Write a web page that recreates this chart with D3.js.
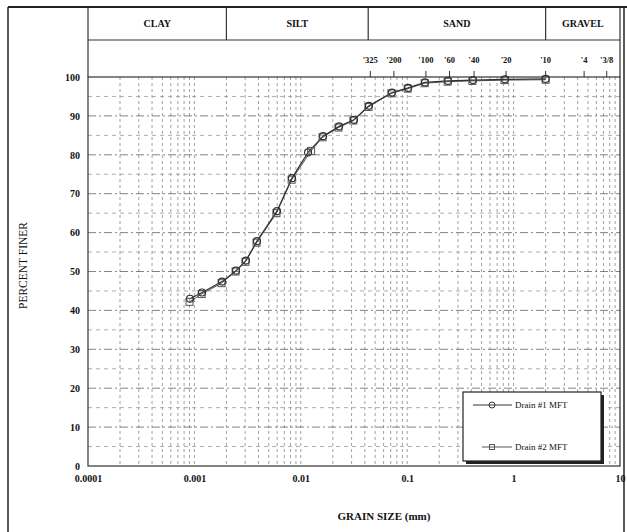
<!DOCTYPE html>
<html><head><meta charset="utf-8">
<script src="https://cdn.jsdelivr.net/npm/d3@7"></script>
<style>
body{margin:0;background:#fff}
text{font-family:"Liberation Serif","Times New Roman",serif;fill:#111}
</style>
</head><body>
<svg id="c" width="627" height="532"></svg>
<script>
// ---- data ----
const seriesNames = ["Drain #1 MFT", "Drain #2 MFT"];
const grainSize1 = [0.00091, 0.00118, 0.00182, 0.00246, 0.00305, 0.00387, 0.00597, 0.00826, 0.0117, 0.0162, 0.0229, 0.0316, 0.0437, 0.072, 0.102, 0.147, 0.242, 0.415, 0.83, 2.0];
const percent1   = [43.0, 44.6, 47.4, 50.2, 52.8, 57.8, 65.5, 74.0, 80.6, 84.8, 87.3, 89.0, 92.6, 96.0, 97.2, 98.6, 99.0, 99.2, 99.4, 99.5];
const grainSize2 = [0.00090, 0.00117, 0.00180, 0.00244, 0.00302, 0.00384, 0.00590, 0.00820, 0.0125, 0.0160, 0.0226, 0.0312, 0.0432, 0.071, 0.101, 0.146, 0.24, 0.41, 0.82, 2.0];
const percent2   = [42.2, 44.2, 47.0, 50.0, 52.5, 57.4, 65.0, 73.6, 81.0, 84.5, 87.0, 88.8, 92.3, 95.8, 97.0, 98.4, 98.8, 99.0, 99.2, 99.3];
const xTickValues = [0.0001, 0.001, 0.01, 0.1, 1, 10];
const xTickLabels = ["0.0001", "0.001", "0.01", "0.1", "1", "10"];
const yTickValues = [0, 10, 20, 30, 40, 50, 60, 70, 80, 90, 100];
const sieveSizes  = [0.045, 0.075, 0.15, 0.25, 0.425, 0.85, 2.0, 4.6, 7.5];
const sieveLabels = ["'325", "'200", "'100", "'60", "'40", "'20", "'10", "'4", "'3/8"];
const soilClasses = ["CLAY", "SILT", "SAND", "GRAVEL"];
const classBounds = [0.0001, 0.002, 0.043, 2, 10];

// ---- layout ----
const W = 627, H = 532;
const L = 88, R = 620, T = 77, B = 466;
const svg = d3.select("#c");
const x = d3.scaleLog().domain([0.0001, 10]).range([L, R]);
const y = d3.scaleLinear().domain([0, 100]).range([B, T]);

// outer frame
svg.append("line").attr("x1", 8).attr("x2", 8).attr("y1", 7).attr("y2", H).attr("stroke", "#222").attr("stroke-width", 1.5);
svg.append("line").attr("x1", 8).attr("x2", W).attr("y1", 7).attr("y2", 7).attr("stroke", "#222").attr("stroke-width", 2);
svg.append("line").attr("x1", 624).attr("x2", 624).attr("y1", 7).attr("y2", H).attr("stroke", "#222").attr("stroke-width", 1.5);

// grid
const g = svg.append("g");
const minorX = [];
for (let k = -4; k <= 0; k++) for (let m = 1; m <= 9; m++) { const v = m * Math.pow(10, k); if (v > 0.0001) minorX.push(v); }
g.selectAll("line.vx").data(minorX).join("line")
  .attr("x1", d => x(d)).attr("x2", d => x(d)).attr("y1", T).attr("y2", B)
  .attr("stroke", "#888").attr("stroke-width", 0.8).attr("stroke-dasharray", "3,3");
const hGrid = d3.range(5, 100, 5);
g.selectAll("line.hy").data(hGrid).join("line")
  .attr("x1", L).attr("x2", R).attr("y1", d => y(d)).attr("y2", d => y(d))
  .attr("stroke", d => d % 10 === 0 ? "#666" : "#999").attr("stroke-width", 0.8)
  .attr("stroke-dasharray", d => d % 10 === 0 ? "8,3,2,3" : "4,4");

// plot border
svg.append("rect").attr("x", L).attr("y", T).attr("width", R - L).attr("height", B - T)
  .attr("fill", "none").attr("stroke", "#333").attr("stroke-width", 1.2);

// header
svg.append("line").attr("x1", L).attr("x2", L).attr("y1", 7).attr("y2", T).attr("stroke", "#333").attr("stroke-width", 1.2);
svg.append("line").attr("x1", R).attr("x2", R).attr("y1", 7).attr("y2", T).attr("stroke", "#333").attr("stroke-width", 1.2);
svg.append("line").attr("x1", L).attr("x2", R).attr("y1", 40).attr("y2", 40).attr("stroke", "#333").attr("stroke-width", 1.2);
svg.selectAll("line.cb").data(classBounds.slice(1, -1)).join("line")
  .attr("x1", d => x(d)).attr("x2", d => x(d)).attr("y1", 7).attr("y2", 40)
  .attr("stroke", "#333").attr("stroke-width", 1.2);
svg.selectAll("text.cl").data(soilClasses).join("text")
  .attr("x", (d, i) => (x(classBounds[i]) + x(classBounds[i + 1])) / 2).attr("y", 27)
  .attr("text-anchor", "middle").attr("font-size", 10).attr("font-weight", "bold").text(d => d);

// sieve ticks
svg.selectAll("line.sv").data(sieveSizes).join("line")
  .attr("x1", d => x(d)).attr("x2", d => x(d)).attr("y1", T - 6).attr("y2", T)
  .attr("stroke", "#333").attr("stroke-width", 1);
svg.selectAll("text.sv").data(sieveSizes).join("text")
  .attr("x", d => x(d)).attr("y", 63).attr("text-anchor", "middle")
  .attr("font-size", 8.5).attr("font-weight", "bold").text((d, i) => sieveLabels[i]);

// axes
const xa = svg.append("g").attr("transform", `translate(0,${B})`)
  .call(d3.axisBottom(x).tickValues(xTickValues).tickSize(0).tickPadding(9).tickFormat((d, i) => xTickLabels[i]));
xa.select(".domain").remove();
xa.selectAll("text").attr("font-size", 10).attr("font-weight", "bold").attr("font-family", "Liberation Serif").attr("fill", "#111");
const ya = svg.append("g").attr("transform", `translate(${L},0)`)
  .call(d3.axisLeft(y).tickValues(yTickValues).tickSize(0).tickPadding(8));
ya.select(".domain").remove();
ya.selectAll("text").attr("font-size", 10).attr("font-weight", "bold").attr("font-family", "Liberation Serif").attr("fill", "#111");

svg.append("text").attr("x", 384).attr("y", 520).attr("text-anchor", "middle")
  .attr("font-size", 11).attr("font-weight", "bold").text("GRAIN SIZE (mm)");
svg.append("text").attr("transform", `translate(27,${(T + B) / 2 - 6}) rotate(-90)`)
  .attr("text-anchor", "middle").attr("font-size", 11.5).text("PERCENT FINER");

// series
const line = d3.line().x(d => x(d[0])).y(d => y(d[1]));
const s1 = grainSize1.map((d, i) => [d, percent1[i]]);
const s2 = grainSize2.map((d, i) => [d, percent2[i]]);
svg.append("path").datum(s2).attr("d", line).attr("fill", "none").attr("stroke", "#555").attr("stroke-width", 1);
svg.append("path").datum(s1).attr("d", line).attr("fill", "none").attr("stroke", "#333").attr("stroke-width", 1.2);
svg.selectAll("rect.m2").data(s2).join("rect")
  .attr("x", d => x(d[0]) - 3.5).attr("y", d => y(d[1]) - 3.5).attr("width", 7).attr("height", 7)
  .attr("fill", "none").attr("stroke", "#555").attr("stroke-width", 1);
svg.selectAll("circle.m1").data(s1).join("circle")
  .attr("cx", d => x(d[0])).attr("cy", d => y(d[1])).attr("r", 3.5)
  .attr("fill", "none").attr("stroke", "#333").attr("stroke-width", 1.2);

// legend
const lg = svg.append("g");
lg.append("rect").attr("x", 466).attr("y", 395).attr("width", 138).attr("height", 69).attr("fill", "#222");
lg.append("rect").attr("x", 463).attr("y", 392).attr("width", 138).attr("height", 69).attr("fill", "#fff").attr("stroke", "#222").attr("stroke-width", 1.2);
lg.append("line").attr("x1", 473).attr("x2", 512).attr("y1", 405).attr("y2", 405).attr("stroke", "#333");
lg.append("circle").attr("cx", 492).attr("cy", 405).attr("r", 3).attr("fill", "none").attr("stroke", "#333");
lg.append("text").attr("x", 515).attr("y", 408).attr("font-size", 9).text(seriesNames[0]);
lg.append("line").attr("x1", 482).attr("x2", 512).attr("y1", 447).attr("y2", 447).attr("stroke", "#555");
lg.append("rect").attr("x", 489.5).attr("y", 444.5).attr("width", 5).attr("height", 5).attr("fill", "none").attr("stroke", "#555");
lg.append("text").attr("x", 515).attr("y", 450).attr("font-size", 9).text(seriesNames[1]);
</script>
</body></html>
